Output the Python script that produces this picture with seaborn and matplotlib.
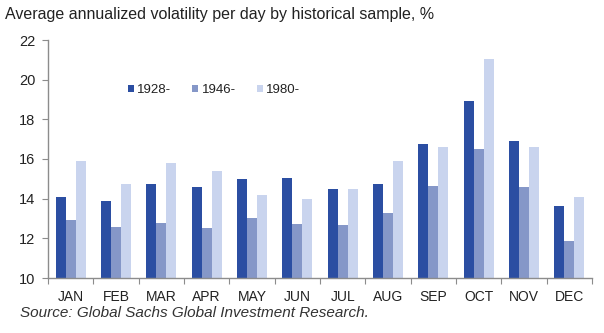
import matplotlib
matplotlib.use("Agg")
import matplotlib.pyplot as plt
import seaborn as sns
import pandas as pd
from matplotlib.ticker import FixedLocator

months = ["JAN", "FEB", "MAR", "APR", "MAY", "JUN", "JUL", "AUG", "SEP", "OCT", "NOV", "DEC"]
series_names = ["1928-", "1946-", "1980-"]
vol_1928 = [14.1, 13.9, 14.75, 14.6, 15.0, 15.05, 14.5, 14.75, 16.75, 18.9, 16.9, 13.65]
vol_1946 = [12.9, 12.55, 12.75, 12.5, 13.05, 12.7, 12.65, 13.3, 14.65, 16.5, 14.6, 11.85]
vol_1980 = [15.9, 14.75, 15.8, 15.4, 14.2, 14.0, 14.5, 15.9, 16.6, 21.05, 16.6, 14.1]
colors = ["#2B4EA2", "#8597C8", "#C9D4EE"]

df = pd.DataFrame({
    "month": months * 3,
    "sample": [series_names[0]] * 12 + [series_names[1]] * 12 + [series_names[2]] * 12,
    "value": vol_1928 + vol_1946 + vol_1980,
})

sns.set_theme(style="white")
plt.rcParams["font.family"] = ["Liberation Sans", "DejaVu Sans"]

fig = plt.figure(figsize=(6.04, 3.33), dpi=100)
ax = fig.add_axes([48 / 604, 1 - 278 / 333, 544 / 604, 238 / 333])

sns.barplot(data=df, x="month", y="value", hue="sample", hue_order=series_names,
            palette=colors, width=0.66, saturation=1, ax=ax, edgecolor="none",
            linewidth=0)

ax.set_ylim(10, 22)
ax.set_xlim(-0.5, 11.5)
ax.set_yticks([10, 12, 14, 16, 18, 20, 22])
ax.set_xlabel("")
ax.set_ylabel("")

for s in ["top", "right"]:
    ax.spines[s].set_visible(False)
for s in ["left", "bottom"]:
    ax.spines[s].set_color("#8C8C8C")
    ax.spines[s].set_linewidth(1.0)

ax.tick_params(axis="y", which="both", left=True, length=4, width=0.8, color="#8C8C8C",
               labelsize=10.5, labelcolor="#222222", pad=5)
ax.tick_params(axis="x", which="major", bottom=False, labelsize=10, labelcolor="#222222", pad=2.5)
ax.xaxis.set_minor_locator(FixedLocator([i + 0.5 for i in range(-1, 12)]))
ax.tick_params(axis="x", which="minor", bottom=True, length=4, width=0.8, color="#8C8C8C")

leg = ax.legend(loc="center left", bbox_to_anchor=(0.147, 0.79), ncol=3, frameon=False,
                fontsize=9.5, handlelength=0.45, handleheight=0.45, handletextpad=0.25,
                columnspacing=1.6, borderaxespad=0, borderpad=0)
for t in leg.get_texts():
    t.set_color("#222222")

fig.text(5 / 604, 1 - 14 / 333, "Average annualized volatility per day by historical sample, %",
         fontsize=11.5, color="#222222", va="center", ha="left")
fig.text(20 / 604, 1 - 313 / 333, "Source: Global Sachs Global Investment Research.",
         fontsize=11, color="#333333", style="italic", va="center", ha="left")

fig.savefig("out.png", dpi=100)
